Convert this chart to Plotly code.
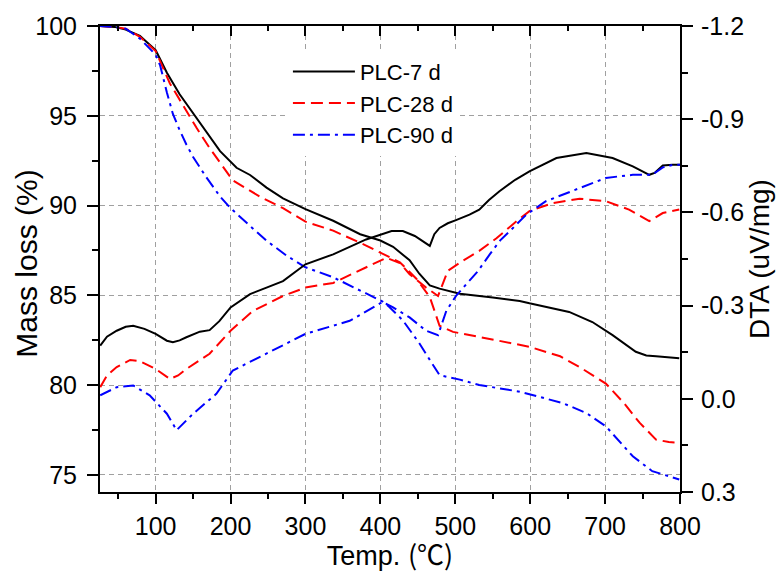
import plotly.graph_objects as go

# ---------------- data ----------------
# TG (mass loss, %) curves, left axis
t_tg7 = [25, 45, 60, 79, 100, 115, 132, 155, 172, 186, 208, 226, 248, 270, 300, 337, 373, 400,
         417, 439, 452, 466, 479, 506, 550, 586, 599, 652, 683, 710, 741, 755, 768, 799]
m_tg7 = [100.0, 99.95, 99.8, 99.45, 98.65, 97.4, 96.2, 94.85, 93.8, 93.03, 92.1, 91.7, 91.0, 90.4,
         89.8, 89.15, 88.4, 88.05, 87.7, 86.95, 86.2, 85.55, 85.37, 85.09, 84.87, 84.68, 84.55,
         84.07, 83.51, 82.78, 81.85, 81.65, 81.6, 81.49]

t_tg28 = [25, 45, 60, 79, 100, 119, 137, 155, 172, 195, 203, 239, 270, 300, 337, 381, 403, 426,
          448, 466, 479, 497, 532, 599, 640, 666, 701, 725, 746, 768, 785, 799]
m_tg28 = [100.0, 99.95, 99.85, 99.4, 98.6, 96.8, 95.55, 94.3, 93.2, 91.9, 91.4, 90.5, 89.85,
          89.1, 88.6, 87.77, 87.3, 86.84, 85.92, 84.9, 83.3, 82.96, 82.68, 82.13, 81.6, 81.0,
          80.08, 79.0, 77.9, 76.96, 76.82, 76.78]

t_tg90 = [25, 45, 60, 79, 100, 106, 115, 123, 132, 141, 150, 159, 168, 186, 200, 225, 248, 275,
          300, 337, 360, 381, 403, 412, 430, 452, 466, 479, 506, 532, 586, 643, 675, 701, 737,
          763, 799]
m_tg90 = [100.0, 99.95, 99.85, 99.3, 98.4, 97.8, 96.3, 95.1, 94.2, 93.4, 92.7, 92.1, 91.55,
          90.5, 89.85, 88.9, 88.04, 87.2, 86.56, 86.0, 85.55, 85.1, 84.65, 84.35, 83.6, 82.33,
          81.4, 80.55, 80.3, 80.0, 79.63, 79.0, 78.44, 77.7, 76.03, 75.2, 74.74]

# DTA (uV/mg) curves, right axis
t_dta7 = [26, 35, 48, 60, 70, 85, 100, 115, 123, 132, 141, 159, 172, 185, 200, 226, 248, 270,
          300, 337, 381, 400, 415, 430, 446, 466, 472, 479, 490, 501, 519, 532, 545, 559, 580,
          599, 635, 675, 710, 737, 759, 766, 777, 790, 800]
d_dta7 = [-0.171, -0.20, -0.219, -0.232, -0.235, -0.225, -0.209, -0.187, -0.182, -0.188,
          -0.198, -0.216, -0.221, -0.25, -0.294, -0.337, -0.358, -0.379, -0.433, -0.465,
          -0.513, -0.529, -0.540, -0.540, -0.524, -0.492, -0.53, -0.55, -0.565, -0.575,
          -0.593, -0.609, -0.64, -0.668, -0.705, -0.732, -0.775, -0.791, -0.775, -0.748,
          -0.721, -0.727, -0.751, -0.753, -0.753]

t_dta28 = [26, 35, 48, 66, 79, 100, 119, 130, 141, 172, 200, 230, 270, 300, 337, 381, 408, 426,
           439, 461, 477, 490, 510, 532, 555, 582, 599, 630, 666, 701, 732, 759, 777, 799]
d_dta28 = [-0.0375, -0.075, -0.102, -0.125, -0.121, -0.096, -0.064, -0.075, -0.096, -0.145,
           -0.219, -0.283, -0.331, -0.358, -0.373, -0.422, -0.454, -0.437, -0.401, -0.358,
           -0.331, -0.412, -0.444, -0.476, -0.517, -0.572, -0.604, -0.63, -0.644, -0.636,
           -0.609, -0.572, -0.598, -0.609]

t_dta90 = [26, 48, 70, 92, 115, 128, 150, 181, 203, 248, 300, 359, 403, 417, 439, 461, 477, 488,
           501, 515, 530, 546, 560, 577, 595, 621, 666, 701, 737, 763, 777, 790, 800]
d_dta90 = [-0.011, -0.0375, -0.043, -0.011, 0.048, 0.101, 0.048, -0.016, -0.091, -0.145,
           -0.209, -0.251, -0.312, -0.294, -0.262, -0.219, -0.205, -0.283, -0.331, -0.37,
           -0.41, -0.465, -0.51, -0.55, -0.593, -0.636, -0.679, -0.711, -0.721, -0.721,
           -0.745, -0.753, -0.753]

names = ["PLC-7 d", "PLC-28 d", "PLC-90 d"]
colors = ["#000000", "#ff0000", "#0000ff"]
dashes = ["solid", "12px,6px", "12px,5px,3px,5px"]

x_ticks = [100, 200, 300, 400, 500, 600, 700, 800]
y_ticks = [75, 80, 85, 90, 95, 100]
y2_ticks = [-1.2, -0.9, -0.6, -0.3, 0.0, 0.3]
y2_ticktext = ["-1.2", "-0.9", "-0.6", "-0.3", "0.0", "0.3"]

FONT = "Liberation Sans, Arial, Noto Sans CJK SC, sans-serif"
x_title = "Temp. <span style='font-family:Noto Sans CJK SC'>(℃)</span>"
y_title = "Mass loss (%)"
y2_title = "DTA (uV/mg)"

fig = go.Figure()
tg = [(t_tg7, m_tg7), (t_tg28, m_tg28), (t_tg90, m_tg90)]
dta = [(t_dta7, d_dta7), (t_dta28, d_dta28), (t_dta90, d_dta90)]
for i in range(3):
    fig.add_trace(go.Scatter(x=tg[i][0], y=tg[i][1], mode="lines", name=names[i],
                             legendgroup=names[i],
                             line=dict(color=colors[i], width=2, dash=dashes[i]),
                             xaxis="x", yaxis="y"))
for i in range(3):
    fig.add_trace(go.Scatter(x=dta[i][0], y=dta[i][1], mode="lines", name=names[i],
                             legendgroup=names[i], showlegend=False,
                             line=dict(color=colors[i], width=2, dash=dashes[i]),
                             xaxis="x", yaxis="y2"))
# top mirror axis (ticks inside)
fig.add_trace(go.Scatter(x=[x_ticks[0]], y=[None], mode="lines", showlegend=False,
                         hoverinfo="skip", xaxis="x2", yaxis="y"))

XR = [25.7, 800]
grid = dict(showgrid=True, gridcolor="#a0a0a0", gridwidth=1, griddash="5px,4px")
fig.update_layout(
    width=783, height=573,
    margin=dict(l=100, r=103, t=24, b=81),
    paper_bgcolor="white", plot_bgcolor="white",
    font=dict(family=FONT, size=25, color="black"),
    showlegend=True,
    legend=dict(x=0.324, y=0.947, xanchor="left", yanchor="top",
                bgcolor="white", borderwidth=0, itemwidth=62,
                font=dict(family=FONT, size=22), tracegroupgap=0),
    xaxis=dict(range=XR, tickmode="array", tickvals=x_ticks, ticks="outside",
               ticklen=10, tickwidth=2, tickcolor="black", showline=True,
               linewidth=2, linecolor="black", zeroline=False, ticklabelstandoff=1,
               minor=dict(dtick=50, tick0=0, ticks="outside", ticklen=5, tickwidth=2,
                          tickcolor="black", showgrid=False),
               title=dict(text=x_title, font=dict(size=27), standoff=0),
               tickfont=dict(size=25), **grid),
    xaxis2=dict(range=XR, overlaying="x", side="top", anchor="y", tickmode="array",
                tickvals=x_ticks, ticks="inside", ticklen=10, tickwidth=2,
                tickcolor="black", showticklabels=False, showline=True, linewidth=2,
                linecolor="black", showgrid=False, zeroline=False,
                minor=dict(dtick=50, tick0=0, ticks="inside", ticklen=5, tickwidth=2,
                           tickcolor="black", showgrid=False)),
    yaxis=dict(range=[74.04, 100], tickmode="array", tickvals=y_ticks, ticks="outside",
               ticklen=11, tickwidth=2, tickcolor="black", showline=True, linewidth=2,
               linecolor="black", zeroline=False, ticklabelstandoff=5,
               minor=dict(dtick=2.5, tick0=0, ticks="outside", ticklen=6, tickwidth=2,
                          tickcolor="black", showgrid=False),
               tickfont=dict(size=25), **grid),
    yaxis2=dict(range=[0.3, -1.2], overlaying="y", side="right", anchor="x",
                tickmode="array", tickvals=y2_ticks, ticktext=y2_ticktext,
                ticks="outside", ticklen=11, tickwidth=2, tickcolor="black",
                showline=True, linewidth=2, linecolor="black", showgrid=False,
                zeroline=False, ticklabelstandoff=3,
                minor=dict(dtick=0.15, tick0=-1.2, ticks="outside", ticklen=6, tickwidth=2,
                           tickcolor="black", showgrid=False),
                title=dict(text=y2_title, font=dict(size=28), standoff=4),
                tickfont=dict(size=25)),
)
# left axis title, placed as rotated text left of the tick labels
fig.add_annotation(text=y_title, textangle=-90, xref="paper", yref="paper",
                   x=0, y=0.49, xanchor="center", yanchor="middle", xshift=-73,
                   showarrow=False, font=dict(family=FONT, size=30, color="black"))

fig.write_html("out.html", config={"displayModeBar": False},
               post_script="document.body.style.margin='0';document.body.style.padding='0';")
